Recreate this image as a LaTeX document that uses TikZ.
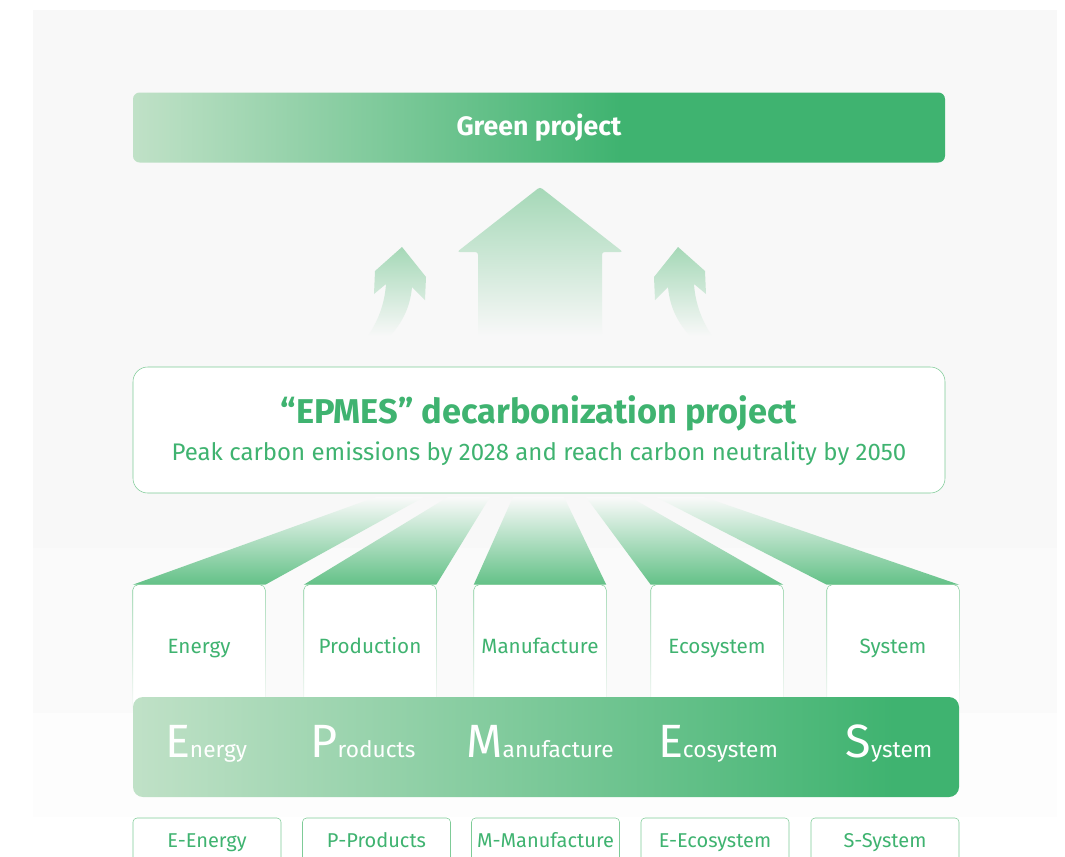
\documentclass[tikz,border=0pt]{standalone}
\usepackage{fontspec}
\setmainfont{Fira Sans}
\usetikzlibrary{positioning,fadings}

\definecolor{dgreen}{HTML}{3FB370}
\definecolor{lgreen}{HTML}{C0E1C7}
\definecolor{lineg}{HTML}{7ECB97}
\definecolor{fang}{HTML}{63C187}
\definecolor{arrg}{HTML}{A5D8B7}
\definecolor{bgA}{HTML}{F8F8F8}
\definecolor{bgB}{HTML}{FAFAFA}
\definecolor{bgC}{HTML}{FDFDFD}

\pgfdeclarehorizontalshading{topbar}{100bp}{color(0bp)=(lgreen); color(25bp)=(lgreen); color(55bp)=(dgreen); color(100bp)=(dgreen)}
\pgfdeclarehorizontalshading{epmesbar}{100bp}{color(0bp)=(lgreen); color(25bp)=(lgreen); color(71bp)=(dgreen); color(100bp)=(dgreen)}
\tikzfading[name=boxfade, top color=transparent!0, middle color=transparent!10, bottom color=transparent!100]
\newcommand{\capini}[1]{{\fontsize{35}{38}\selectfont #1}}

\begin{document}
\begin{tikzpicture}[x=0.75pt,y=-0.75pt,
	greenbar/.style={shade, shading=topbar, rounded corners=5pt, text=white, minimum width=609pt, minimum height=52.5pt, font=\bfseries\fontsize{20}{24}\selectfont},
	projbox/.style={draw=lineg, fill=white, rounded corners=11pt, minimum width=609pt, minimum height=94.5pt},
	upfade/.style={top color=arrg, bottom color=bgA},
	fan/.style={top color=bgB, bottom color=fang},
	subbox/.style={fill=white, minimum width=99pt, minimum height=94.5pt, text height=11pt, text depth=3pt, text=dgreen, font=\fontsize{15.5}{18}\selectfont},
	boxedge/.style={draw=lineg, path fading=boxfade, rounded corners=4pt},
	epmesbar/.style={shade, shading=epmesbar, rounded corners=7.5pt, minimum width=619.5pt, minimum height=75pt},
	word/.style={anchor=base, text=white, font=\fontsize{17}{20}\selectfont},
	botbox/.style={draw=lineg, fill=white, rounded corners=3pt, minimum width=111pt, minimum height=36pt, text height=11pt, text depth=3pt, text=dgreen, font=\fontsize{15}{18}\selectfont}]
	\useasboundingbox (0,0) rectangle (1065,857);
	% background
	\fill[bgA] (33,10) rectangle (1057,548);
	\fill[bgB] (33,548) rectangle (1057,713);
	\fill[bgC] (33,713) rectangle (1057,817);

	\node[greenbar] (green) at (539,127.5) {Green project};

	% arrows going up
	\shade[upfade, rounded corners=2pt] (540,187) -- (623,252) -- (602,252) -- (602,336) -- (478,336) -- (478,252) -- (457,252) -- cycle;
	\shade[upfade] (402,247) -- (426,277) -- (425,300) -- (412,287) .. controls (410,310) and (400,325) .. (390,336) -- (368,336) .. controls (380,318) and (385,300) .. (386,284) -- (374,294) -- (375,271) -- cycle;
	\shade[upfade] (678,247) -- (654,277) -- (655,300) -- (668,287) .. controls (670,310) and (680,325) .. (690,336) -- (712,336) .. controls (700,318) and (695,300) .. (694,284) -- (706,294) -- (705,271) -- cycle;

	\node[projbox] (proj) at (539,430) {};
	\node[text=dgreen, font=\bfseries\fontsize{25.8}{30}\selectfont] (title) at (539,413) {“EPMES” decarbonization project};
	\node[text=dgreen, font=\fontsize{18}{21}\selectfont] (goal) at (539,454) {Peak carbon emissions by 2028 and reach carbon neutrality by 2050};

	% five parts
	\node[subbox] (energy) at (199,648) {Energy};
	\node[subbox] (production) at (370,648) {Production};
	\node[subbox] (manufacture) at (540,648) {Manufacture};
	\node[subbox] (ecosystem) at (717,648) {Ecosystem};
	\node[subbox] (system) at (893,648) {System};

	\coordinate (f1a) at (376,497);
	\coordinate (f1b) at (424,497);
	\coordinate (f2a) at (448,497);
	\coordinate (f2b) at (490,497);
	\coordinate (f3a) at (513,497);
	\coordinate (f3b) at (564,497);
	\coordinate (f4a) at (586,497);
	\coordinate (f4b) at (630,497);
	\coordinate (f5a) at (656,497);
	\coordinate (f5b) at (704,497);
	\shade[fan] (f1a) -- (f1b) -- (energy.north east) -- (energy.north west) -- cycle;
	\shade[fan] (f2a) -- (f2b) -- (production.north east) -- (production.north west) -- cycle;
	\shade[fan] (f3a) -- (f3b) -- (manufacture.north east) -- (manufacture.north west) -- cycle;
	\shade[fan] (f4a) -- (f4b) -- (ecosystem.north east) -- (ecosystem.north west) -- cycle;
	\shade[fan] (f5a) -- (f5b) -- (system.north east) -- (system.north west) -- cycle;

	\draw[boxedge] (energy.south west) -- (energy.north west) -- (energy.north east) -- (energy.south east);
	\draw[boxedge] (production.south west) -- (production.north west) -- (production.north east) -- (production.south east);
	\draw[boxedge] (manufacture.south west) -- (manufacture.north west) -- (manufacture.north east) -- (manufacture.south east);
	\draw[boxedge] (ecosystem.south west) -- (ecosystem.north west) -- (ecosystem.north east) -- (ecosystem.south east);
	\draw[boxedge] (system.south west) -- (system.north west) -- (system.north east) -- (system.south east);

	% EPMES bar
	\node[epmesbar] (epmes) at (546,747) {};
	\node[word] (wE) at (206,757) {\capini{E}nergy};
	\node[word] (wP) at (363,757) {\capini{P}roducts};
	\node[word] (wM) at (540,757) {\capini{M}anufacture};
	\node[word] (wEc) at (718,757) {\capini{E}cosystem};
	\node[word] (wS) at (889,757) {\capini{S}ystem};

	\node[botbox] (bE) at (207,842) {E-Energy};
	\node[botbox] (bP) at (376.5,842) {P-Products};
	\node[botbox] (bM) at (545.5,842) {M-Manufacture};
	\node[botbox] (bEc) at (715,842) {E-Ecosystem};
	\node[botbox] (bS) at (885,842) {S-System};
\end{tikzpicture}
\end{document}
